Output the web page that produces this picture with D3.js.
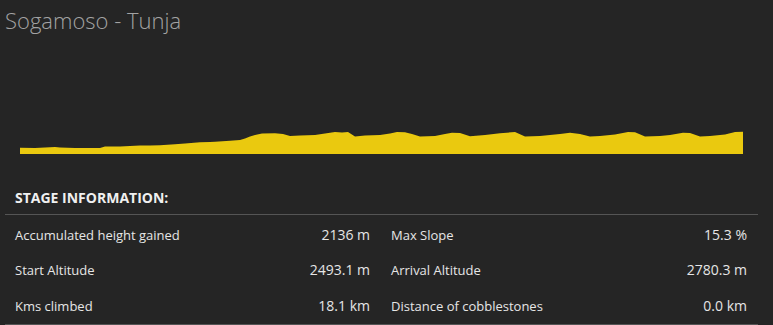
<!DOCTYPE html>
<html><head><meta charset="utf-8">
<script src="https://cdn.jsdelivr.net/npm/d3@7"></script>
<style>
html,body{margin:0;padding:0;background:#252525;}
svg{display:block;font-family:"Open Sans",sans-serif;}
</style></head>
<body><svg id="c" width="773" height="325"></svg>
<script>
const title = "Sogamoso - Tunja";
const km = [0,3.75,7.5,8.75,10,13.75,20,21.25,25,27.5,30,32.5,35,38.75,41.25,45,47.5,48.75,52.5,55,56.25,57.5,58.75,60.5,63.75,65.75,67.5,70,73.75,76.25,78.75,80.5,82,83.75,86.25,90,92.5,94.25,96.25,98,100,103.75,106.25,108,110,112.5,116.25,120,123.75,126.25,130,135,137.5,140,142.5,145,148.75,152,153.75,156.25,160,162.5,165.75,167.5,170,172.5,176.25,178.75,180.75];
const altitude = [2493,2488,2500,2506,2497,2488,2488,2515,2515,2524,2533,2533,2537,2555,2569,2591,2596,2601,2619,2632,2659,2695,2722,2749,2753,2740,2704,2713,2722,2749,2776,2767,2776,2695,2713,2722,2749,2776,2771,2740,2695,2704,2740,2763,2758,2699,2722,2753,2776,2695,2704,2740,2763,2740,2695,2704,2731,2776,2771,2695,2704,2722,2763,2758,2695,2704,2731,2776,2780];
const infoLeftLabels = ["Accumulated height gained","Start Altitude","Kms climbed"];
const infoLeftValues = ["2136 m","2493.1 m","18.1 km"];
const infoRightLabels = ["Max Slope","Arrival Altitude","Distance of cobblestones"];
const infoRightValues = ["15.3 %","2780.3 m","0.0 km"];

const svg = d3.select("#c");
svg.append("rect").attr("width",773).attr("height",325).attr("fill","#252525");

svg.append("text").attr("x",5).attr("y",29).attr("fill","#a3a3a3")
  .style("font-size","22px").style("font-weight",300).text(title);

const x = d3.scaleLinear().domain([0,180.75]).range([20,743]);
const y = d3.scaleLinear().domain([2380,2830]).range([154,129]);
const area = d3.area().x((d,i)=>x(km[i])).y0(y(2380)).y1((d,i)=>y(altitude[i])).curve(d3.curveLinear);
svg.append("path").datum(altitude).attr("d",area).attr("fill","#eac90f");

svg.append("text").attr("x",15).attr("y",203).attr("fill","#f0f0f0")
  .style("font-size","14px").style("font-weight",700).text("STAGE INFORMATION:");
svg.append("line").attr("x1",5).attr("x2",758).attr("y1",214.5).attr("y2",214.5).attr("stroke","#555");
svg.append("line").attr("x1",5).attr("x2",758).attr("y1",324.5).attr("y2",324.5).attr("stroke","#555");

const rowY = [240,275,311];
const g = svg.append("g").style("font-size","13px").attr("fill","#e6e6e6");
rowY.forEach((ry,i)=>{
  g.append("text").attr("x",15).attr("y",ry).text(infoLeftLabels[i]);
  g.append("text").attr("x",370).attr("y",ry).attr("text-anchor","end").style("font-size","14px").text(infoLeftValues[i]);
  g.append("text").attr("x",391).attr("y",ry).text(infoRightLabels[i]);
  g.append("text").attr("x",747).attr("y",ry).attr("text-anchor","end").style("font-size","14px").text(infoRightValues[i]);
});
</script></body></html>
